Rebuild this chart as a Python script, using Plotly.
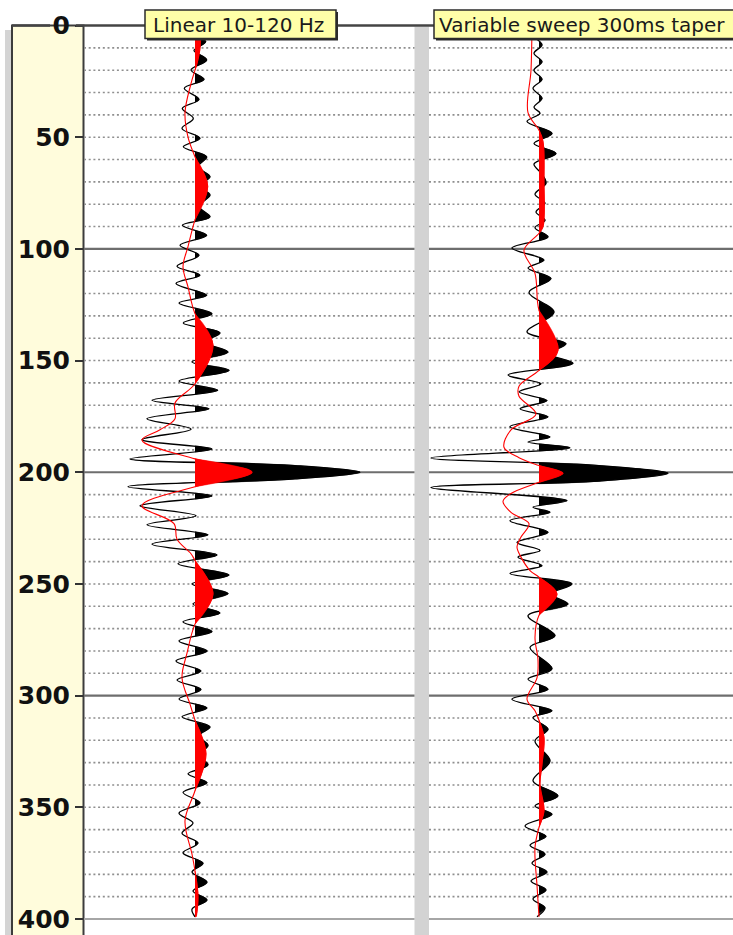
import math
import plotly.graph_objects as go

# ---------------- data (time in ms, amplitude in trace units) ----------------
time_linear = [0, 3.5, 7.2, 11.2, 15.4, 19.9, 24.1, 28.1, 33.1, 37.1, 41.6, 46.1, 50.5, 54.3, 58.8,
               63.2, 67.7, 71.9, 75.9, 80.9, 85.7, 89.4, 93.9, 98.4, 102.8, 107.8, 111.8, 115.5, 120.8,
               124.2, 129.0, 133.2, 137.6, 141.7, 146.2, 150.6, 154.4, 159.2, 163.3, 167.8, 171.6, 176.0,
               180.7, 185.4, 189.6, 194.0, 197.0, 200.0, 203.0, 206.5, 210.6, 215.0, 219.5, 223.5, 228.0,
               232.2, 237.0, 241.0, 246.0, 250.0, 254.3, 259.0, 263.0, 267.0, 271.3, 275.5, 280.0, 284.5,
               289.0, 293.0, 297.3, 301.5, 305.5, 309.5, 314.0, 318.0, 322.3, 326.5, 331.0, 335.0, 339.0,
               343.3, 348.0, 352.6, 357.0, 361.6, 366.0, 370.4, 375.0, 379.0, 383.5, 387.5, 391.5, 395.6, 399.0]
amp_linear = [2, -2, 10.7, -1, 11.7, -4, 9, -10.7, 4, -12.7, -1.7, -13, 5, -11.7, 11.7,
              3, 15, 4, 15, 4, 15, -12.7, 11.7, -15, 4, -18, 5, -19, 11.7,
              -16, 17, -11.7, 25, 10, 33, -3, 34, -16, 22.7, -43, 14, -48,
              -4, -53, 17, -65, 100, 165, 100, -67, 17, -55, 1, -48, 13,
              -43, 22, -17, 34, -3, 33, -2, 25, -12, 17, -16, 12, -19,
              6, -18, 6, -16, 12, -13, 15, 4, 13, 4, 13, -7, 12,
              -12, 5, -16, -2, -13, 3, -12, 8, -3, 12, -2, 12, -3, 0]

time_linear_red = [0, 10, 17, 20, 26, 39, 50, 58.8, 72, 87, 99, 108, 117, 129, 143, 160.4, 169, 176, 181,
                   185.6, 194, 200, 206.5, 215, 223, 230, 236.5, 239.5, 254.5, 268, 281, 292, 303.8, 311,
                   326, 342.6, 356, 371, 378.5, 390, 399]
amp_linear_red = [5, 5, 2, 0, -4, -10, -7, 0, 12.7, 0, -7, -12, -7, 0, 18, 0, -20, -20, -35,
                  -53, 0, 57, 0, -53, -21, -18, -4, 0, 18, 0, -8, -13, -5, 0,
                  11, 0, -10, -3, 0, 3, 1]

time_variable = [0, 4.5, 8.7, 12.4, 16.2, 20, 24.1, 28.1, 32.6, 36.6, 39.3, 43, 48.3, 52.8, 57.3, 62.0,
                 66.5, 70.7, 75.5, 79.5, 83.5, 87.2, 90.5, 94.6, 99.6, 105, 108.6, 113.3, 119.5, 128.3,
                 137.2, 142.5, 147, 151.2, 156.5, 160.4, 164, 167.9, 171.6, 175.2, 179.6, 184.2, 186.5,
                 189.0, 193.6, 197.0, 200.5, 204.0, 206.8, 212.7, 215.7, 217.9, 221.7, 226.9, 231.4, 235,
                 238, 241.8, 245.3, 250, 254.5, 259, 264.2, 273.2, 278.4, 288, 292.6, 297.1, 301.6, 306.8,
                 309.8, 315, 320.3, 329.2, 338.2, 344.9, 349.4, 353.1, 358.4, 363, 367, 371, 375, 379,
                 383, 387, 391, 395, 399]
amp_variable = [0, -5, 3, -5, 3, -5, 3, -6, 3, -5, 1, -12, 13, -5, 17, -5,
                3, 7, -4, 6, -3, 6, -4, 9, -27, 5, -11, 12, -10, 15,
                -12, 27, 10, 34, -31, 2, -20, 8, -19, 9, -29, 11, -11,
                31, -108, 60, 129, 60, -108, 28, -6, 11, -29, 9, -22, 1,
                -21, 3, -29, 33, 12, 29, -11, 16, -9, 13, -11, 9, -27, 13,
                -6, 9, -4, 11, -6, 19, -4, 13, -14, 7, -9, 6, -7, 8,
                -8, 7, -6, 6, -2]

time_variable_red = [0, 20, 39, 46.8, 52, 70, 90, 93, 100.6, 111, 127.5, 145.4, 154.4, 161.5, 166, 174,
                     181, 188.8, 193.5, 197, 200.5, 204.5, 209.5, 213, 218, 223, 229, 233.5, 238, 244,
                     247, 254.5, 264, 274, 284, 292, 301.6, 306.8, 311, 318.8, 330.7, 339.7, 351.6, 359,
                     368, 385, 399]
amp_variable_red = [-7, -8, -11, 0, 4, 5, 4, 0, -15, -4, 0, 19, 0, -20, -20, -3,
                    -28, -35, -20, 0, 24, 0, -28, -36, -28, -10, -18, -22, -18, -9,
                    0, 18, 0, -4, -1, -2, -12, -4, 0, 5, 3, 1, 5, 0,
                    -4, -2, 0]

tick_values = [0, 50, 100, 150, 200, 250, 300, 350, 400]
panel_titles = ["Linear 10-120 Hz", "Variable sweep 300ms taper"]

# ---------------- layout geometry ----------------
W, H = 733, 935
T0_PX, T400_PX = 25.5, 919.0
SCALE = (T400_PX - T0_PX) / 400.0
Y_BOTTOM = (H - T0_PX) / SCALE


def px(x):
    return x / W


def py(y):
    return 1 - y / H


def zero_cross(t0, a0, t1, a1):
    m = (a0 + a1) / 2.0
    h = (a1 - a0) / 2.0
    r = max(-1.0, min(1.0, m / h))
    s = math.acos(r) / math.pi
    return t0 + s * (t1 - t0)


def positive_segments(t, a):
    segs, cur = [], None
    for i in range(len(a)):
        if a[i] > 0:
            if cur is None:
                tz = t[0] if i == 0 else zero_cross(t[i - 1], a[i - 1], t[i], a[i])
                cur = [(0.0, tz)]
            cur.append((a[i], t[i]))
        elif cur is not None:
            cur.append((0.0, zero_cross(t[i - 1], a[i - 1], t[i], a[i])))
            segs.append(cur)
            cur = None
    if cur is not None:
        cur.append((0.0, t[-1]))
        segs.append(cur)
    return segs


fig = go.Figure()


def add_wiggle(t, a, xa, ya, color, width):
    for seg in positive_segments(t, a):
        fig.add_trace(go.Scatter(
            x=[p[0] for p in seg], y=[p[1] for p in seg], mode="lines", fill="toself",
            fillcolor=color, line=dict(color=color, width=0.5, shape="spline"),
            xaxis=xa, yaxis=ya, hoverinfo="skip", showlegend=False))
    fig.add_trace(go.Scatter(
        x=a, y=t, mode="lines", line=dict(color=color, width=width, shape="spline"),
        xaxis=xa, yaxis=ya, hoverinfo="skip", showlegend=False))


add_wiggle(time_linear, amp_linear, "x", "y", "#000000", 1.3)
add_wiggle(time_linear_red, amp_linear_red, "x", "y", "#ff0000", 1.1)
add_wiggle(time_variable, amp_variable, "x2", "y2", "#000000", 1.3)
add_wiggle(time_variable_red, amp_variable_red, "x2", "y2", "#ff0000", 1.1)

# ---------------- shapes ----------------
shapes = []
shapes.append(dict(type="rect", xref="paper", yref="paper", x0=px(5), x1=px(11.5), y0=0, y1=py(30),
                   fillcolor="#d4d4d4", line=dict(width=0), layer="below"))
shapes.append(dict(type="rect", xref="paper", yref="paper", x0=px(12), x1=px(83.5), y0=py(H + 5), y1=py(25.5),
                   fillcolor="#fffcdc", line=dict(color="#3c3c3c", width=2), layer="below"))
shapes.append(dict(type="rect", xref="paper", yref="paper", x0=px(414.5), x1=px(429), y0=0, y1=py(26.5),
                   fillcolor="#d3d3d3", line=dict(width=0), layer="below"))
for xr in ("x domain", "x2 domain"):
    yr = "y" if xr == "x domain" else "y2"
    for tv in range(10, 401, 10):
        if tv % 100 == 0:
            col = "#a6a6a6" if tv == 400 else "#6e6e6e"
            shapes.append(dict(type="line", xref=xr, yref=yr, x0=0, x1=1, y0=tv, y1=tv,
                               line=dict(color=col, width=2.2), layer="below"))
        else:
            shapes.append(dict(type="line", xref=xr, yref=yr, x0=0, x1=1, y0=tv, y1=tv,
                               line=dict(color="#8f8f8f", width=1.6, dash="2px,2.7px"), layer="below"))
for a_, b_ in ((12, 50), (76, 733)):
    shapes.append(dict(type="line", xref="paper", yref="paper", x0=px(a_), x1=px(b_), y0=py(25.5), y1=py(25.5),
                       line=dict(color="#444444", width=2.5), layer="above"))
boxes = [(145, 336, 10, 38.5), (434, 745, 10, 38.5)]
for (x0, x1, y0, y1) in boxes:
    shapes.append(dict(type="rect", xref="paper", yref="paper", x0=px(x0 + 2), x1=px(x1 + 2),
                       y0=py(y1 + 2), y1=py(y0 + 2), fillcolor="#2b2b2b", line=dict(width=0), layer="above"))
    shapes.append(dict(type="rect", xref="paper", yref="paper", x0=px(x0), x1=px(x1),
                       y0=py(y1), y1=py(y0), fillcolor="#ffffa8", line=dict(color="#2b2b2b", width=1.5),
                       layer="above"))

annotations = []
for cx, txt in ((238, panel_titles[0]), (581.5, panel_titles[1])):
    annotations.append(dict(x=px(cx), y=py(24.5), xref="paper", yref="paper", text=txt, showarrow=False,
                            xanchor="center", yanchor="middle",
                            font=dict(family="DejaVu Sans", size=20, color="#1a1a1a")))

yaxis_common = dict(range=[Y_BOTTOM, 0], domain=[0, py(T0_PX)], showgrid=False, zeroline=False,
                    automargin=False)
fig.update_layout(
    width=W, height=H, margin=dict(l=0, r=0, t=0, b=0, autoexpand=False),
    paper_bgcolor="white", plot_bgcolor="white", showlegend=False,
    xaxis=dict(domain=[px(84), px(414.5)], range=[84 - 195, 414.5 - 195], visible=False, anchor="y",
               automargin=False),
    xaxis2=dict(domain=[px(429), 1], range=[429 - 539, 733 - 539], visible=False, anchor="y2",
                automargin=False),
    yaxis=dict(**yaxis_common, anchor="x", tickvals=tick_values, ticktext=[str(v) for v in tick_values],
               ticks="outside", ticklen=8, tickwidth=2, tickcolor="#333333",
               showline=False,
               tickfont=dict(family="DejaVu Sans", size=25, color="#111111", weight="bold")),
    yaxis2=dict(**yaxis_common, anchor="x2", showticklabels=False, ticks=""),
    shapes=shapes, annotations=annotations,
)

fig.write_html("out.html", config={"displayModeBar": False},
               post_script="document.body.style.margin='0px';document.body.style.overflow='hidden';")
